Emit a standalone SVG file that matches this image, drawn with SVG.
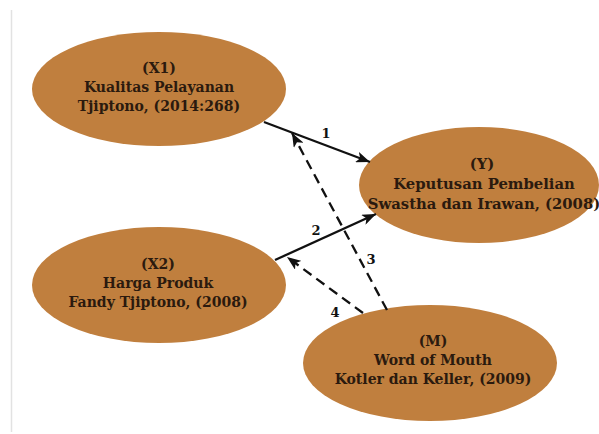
<svg xmlns="http://www.w3.org/2000/svg" width="599" height="434" viewBox="0 0 599 434">
<style>
.node ellipse{fill:#c07f3e;}
.node text{font-family:"DejaVu Serif","Liberation Serif",serif;font-weight:bold;font-size:14px;fill:#2b1a0e;text-anchor:middle;}
#Y text{font-size:14.8px;}
.edge{stroke:#111;stroke-width:2.3;fill:none;}
.dash{stroke-dasharray:10,6;}
.lbl{font-family:"DejaVu Serif","Liberation Serif",serif;font-weight:bold;font-size:13px;fill:#111;text-anchor:middle;}
</style>
<defs>
<marker id="ah" viewBox="0 0 14 11" refX="14" refY="5.5" markerWidth="14" markerHeight="11" markerUnits="userSpaceOnUse" orient="auto">
<path d="M0,0 L14,5.5 L0,11 L3.5,5.5 Z" fill="#111"/>
</marker>
</defs>
<rect width="599" height="434" fill="#fff"/>
<line x1="11.5" y1="10" x2="11.5" y2="432" stroke="#e2e2e2" stroke-width="1.5"/>
<g id="X1" class="node">
<ellipse cx="159" cy="89" rx="127" ry="57"/>
<text x="159" y="73">(X1)</text>
<text x="159" y="92">Kualitas Pelayanan</text>
<text x="159" y="111">Tjiptono, (2014:268)</text>
</g>
<g id="Y" class="node">
<ellipse cx="479" cy="185" rx="120" ry="58"/>
<text x="482" y="169">(Y)</text>
<text x="484" y="189">Keputusan Pembelian</text>
<text x="484" y="209">Swastha dan Irawan, (2008)</text>
</g>
<g id="X2" class="node">
<ellipse cx="159" cy="285" rx="127" ry="58"/>
<text x="158" y="269">(X2)</text>
<text x="158" y="288">Harga Produk</text>
<text x="158" y="307">Fandy Tjiptono, (2008)</text>
</g>
<g id="M" class="node">
<ellipse cx="430" cy="363" rx="127" ry="58"/>
<text x="433" y="346">(M)</text>
<text x="433" y="365">Word of Mouth</text>
<text x="433" y="384">Kotler dan Keller, (2009)</text>
</g>
<g id="connectors">
<line class="edge" x1="264" y1="122" x2="370" y2="162" marker-end="url(#ah)"/>
<line class="edge" x1="275" y1="260" x2="376" y2="214" marker-end="url(#ah)"/>
<line class="edge dash" x1="387" y1="310" x2="292" y2="133" marker-end="url(#ah)"/>
<line class="edge dash" x1="363" y1="313" x2="287" y2="257" marker-end="url(#ah)"/>
<text class="lbl" x="326" y="138">1</text>
<text class="lbl" x="316" y="235">2</text>
<text class="lbl" x="371" y="264">3</text>
<text class="lbl" x="335" y="317">4</text>
</g>
</svg>
